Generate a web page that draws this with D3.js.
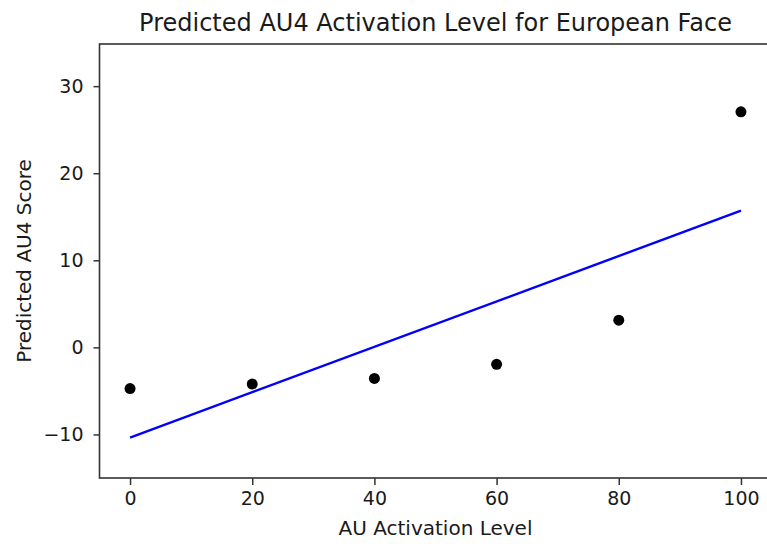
<!DOCTYPE html>
<html>
<head>
<meta charset="utf-8">
<script src="https://cdn.jsdelivr.net/npm/d3@7"></script>
<style>
  body { margin: 0; background: #fff; }
  text { font-family: "DejaVu Sans", sans-serif; fill: #1a1a1a; }
</style>
</head>
<body>
<div id="chart"></div>
<script>
// data
var levels = [0, 20, 40, 60, 80, 100];
var scores = [-4.73, -4.21, -3.56, -1.95, 3.13, 27.05];
// fitted line end points (x = 0 and x = 100)
var fitX = [0, 100];
var fitY = [-10.35, 15.7];
var xTicks = [0, 20, 40, 60, 80, 100];
var yTicks = [-10, 0, 10, 20, 30];

var width = 767, height = 544;
// plot box (right edge runs past the window, as in the reference)
var plotLeft = 99.5, plotRight = 771.5, plotTop = 44, plotBottom = 478;

var svg = d3.select("#chart").append("svg")
    .attr("width", width).attr("height", height);

var x = d3.scaleLinear().domain([-5, 105]).range([plotLeft, plotRight]);
var y = d3.scaleLinear().domain([-15, 34.84]).range([plotBottom, plotTop]);

// axes
var xAxis = svg.append("g")
    .attr("transform", "translate(0," + plotBottom + ")")
    .call(d3.axisBottom(x).tickValues(xTicks).tickSize(7).tickPadding(7).tickFormat(d3.format("d")));
var yAxis = svg.append("g")
    .attr("transform", "translate(" + plotLeft + ",0)")
    .call(d3.axisLeft(y).tickValues(yTicks).tickSize(6).tickPadding(10)
      .tickFormat(function(d) { return d < 0 ? "\u2212" + Math.abs(d) : d; }));

[xAxis, yAxis].forEach(function(g) {
  g.select(".domain").remove();
  g.selectAll(".tick line").attr("stroke", "#333").attr("stroke-width", 1.5);
  g.selectAll(".tick text").attr("font-size", 19).attr("fill", "#1a1a1a")
    .style("font-family", "'DejaVu Sans', sans-serif");
});

// frame (spines)
svg.append("rect")
    .attr("x", plotLeft).attr("y", plotTop)
    .attr("width", plotRight - plotLeft).attr("height", plotBottom - plotTop)
    .attr("fill", "none").attr("stroke", "#333").attr("stroke-width", 1.6);

// regression line
svg.append("path")
    .datum(d3.zip(fitX, fitY))
    .attr("d", d3.line().x(function(d) { return x(d[0]); }).y(function(d) { return y(d[1]); }))
    .attr("fill", "none").attr("stroke", "#0000ff").attr("stroke-width", 2.4);

// points
svg.selectAll("circle.pt")
    .data(d3.zip(levels, scores))
    .enter().append("circle")
    .attr("class", "pt")
    .attr("cx", function(d) { return x(d[0]); })
    .attr("cy", function(d) { return y(d[1]); })
    .attr("r", 5.5)
    .attr("fill", "#000");

// title and labels
svg.append("text")
    .attr("x", (plotLeft + plotRight) / 2).attr("y", 31)
    .attr("text-anchor", "middle").attr("font-size", 24)
    .text("Predicted AU4 Activation Level for European Face");

svg.append("text")
    .attr("x", (plotLeft + plotRight) / 2).attr("y", 535)
    .attr("text-anchor", "middle").attr("font-size", 20)
    .text("AU Activation Level");

svg.append("text")
    .attr("transform", "translate(31," + ((plotTop + plotBottom) / 2) + ") rotate(-90)")
    .attr("text-anchor", "middle").attr("font-size", 20)
    .text("Predicted AU4 Score");
</script>
</body>
</html>
